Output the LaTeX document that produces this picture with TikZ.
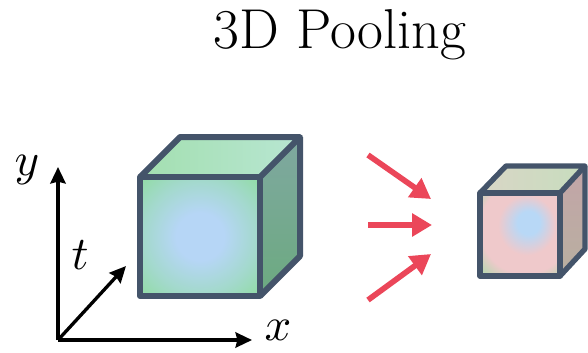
\documentclass[tikz,border=0pt]{standalone}
\usetikzlibrary{arrows.meta}
\definecolor{cubeedge}{HTML}{44546A}
\definecolor{poolred}{HTML}{EB4659}
\definecolor{bigblue}{HTML}{B6D6F6}
\definecolor{biggreen}{HTML}{8FDCA0}
\definecolor{bigtopa}{HTML}{A3DFB0}
\definecolor{bigtopb}{HTML}{B8E6D2}
\definecolor{bigsidea}{HTML}{7FA8A0}
\definecolor{bigsideb}{HTML}{6CAA80}
\definecolor{smallblue}{HTML}{B8D8F6}
\definecolor{smallpink}{HTML}{EFC9CB}
\definecolor{smallgreen}{HTML}{A2DCA6}
\definecolor{smalltopa}{HTML}{D9D6C6}
\definecolor{smalltopb}{HTML}{C7DDBE}
\definecolor{smallsidea}{HTML}{C3A5A8}
\definecolor{smallsideb}{HTML}{B8AFA0}
% wide blue centre, green corners
\pgfdeclareradialshading{bigfront}{\pgfpoint{0bp}{0bp}}{%
  color(0bp)=(bigblue); color(10bp)=(bigblue);
  color(24bp)=(bigblue!50!biggreen); color(36bp)=(biggreen); color(50bp)=(biggreen)}
% centre off to the upper right
\pgfdeclareradialshading{smallfront}{\pgfpoint{6bp}{8bp}}{%
  color(0bp)=(smallblue); color(7bp)=(smallblue);
  color(18bp)=(smallpink); color(28bp)=(smallpink);
  color(40bp)=(smallgreen); color(60bp)=(smallgreen)}
\tikzset{
  cubeline/.style={draw=cubeedge, line width=0.18cm, line join=round},
  poolarrow/.style={draw=poolred, line width=0.17cm, -{Triangle[length=17pt,width=19pt]}},
  axisarrow/.style={line width=0.1cm, -{Stealth[length=14pt,width=13pt,inset=1.5pt]}},
  axislabel/.style={scale=4}
}
\begin{document}
\begin{tikzpicture}[x=0.03cm,y=-0.03cm]
  \useasboundingbox (0,0) rectangle (588,352);
  % title
  \node[anchor=base, font=\fontsize{48}{56}\selectfont] (title) at (340,48) {3D Pooling};
  % axes
  \coordinate (origin) at (58,340);
  \coordinate (ytip) at (58,167);
  \coordinate (xtip) at (252,340);
  \coordinate (ttip) at (126,266);
  \draw[axisarrow] (origin) -- (ytip);
  \draw[axisarrow] (origin) -- (xtip);
  \draw[axisarrow] (origin) -- (ttip);
  \node[axislabel] (ylab) at (27,170) {$y$};
  \node[axislabel] (tlab) at (80,255) {$t$};
  \node[axislabel] (xlab) at (278,330) {$x$};
  % big cube: faces first, then the edges
  \shade[left color=bigtopa, right color=bigtopb] (140,177) -- (180,137) -- (300,137) -- (260,177) -- cycle;
  \shade[top color=bigsidea, bottom color=bigsideb] (260,177) -- (300,137) -- (300,256) -- (260,296) -- cycle;
  \shade[shading=bigfront] (140,177) rectangle (260,296);
  \draw[cubeline] (140,177) rectangle (260,296);
  \draw[cubeline] (140,177) -- (180,137) -- (300,137) -- (260,177);
  \draw[cubeline] (300,137) -- (300,256) -- (260,296);
  % pooling arrows
  \coordinate (atop) at (368,155);
  \coordinate (amid) at (368,225);
  \coordinate (abot) at (368,300);
  \coordinate (htop) at (431,199);
  \coordinate (hmid) at (432,225);
  \coordinate (hbot) at (431,254);
  \draw[poolarrow] (atop) -- (htop);
  \draw[poolarrow] (amid) -- (hmid);
  \draw[poolarrow] (abot) -- (hbot);
  % small cube
  \shade[left color=smalltopa, right color=smalltopb] (480,193) -- (506,166) -- (585,166) -- (560,193) -- cycle;
  \shade[top color=smallsidea, bottom color=smallsideb] (560,193) -- (585,166) -- (585,249) -- (560,276) -- cycle;
  \shade[shading=smallfront] (480,193) rectangle (560,276);
  \draw[cubeline, line width=0.16cm] (480,193) rectangle (560,276);
  \draw[cubeline, line width=0.16cm] (480,193) -- (506,166) -- (585,166) -- (560,193);
  \draw[cubeline, line width=0.16cm] (585,166) -- (585,249) -- (560,276);
\end{tikzpicture}
\end{document}
